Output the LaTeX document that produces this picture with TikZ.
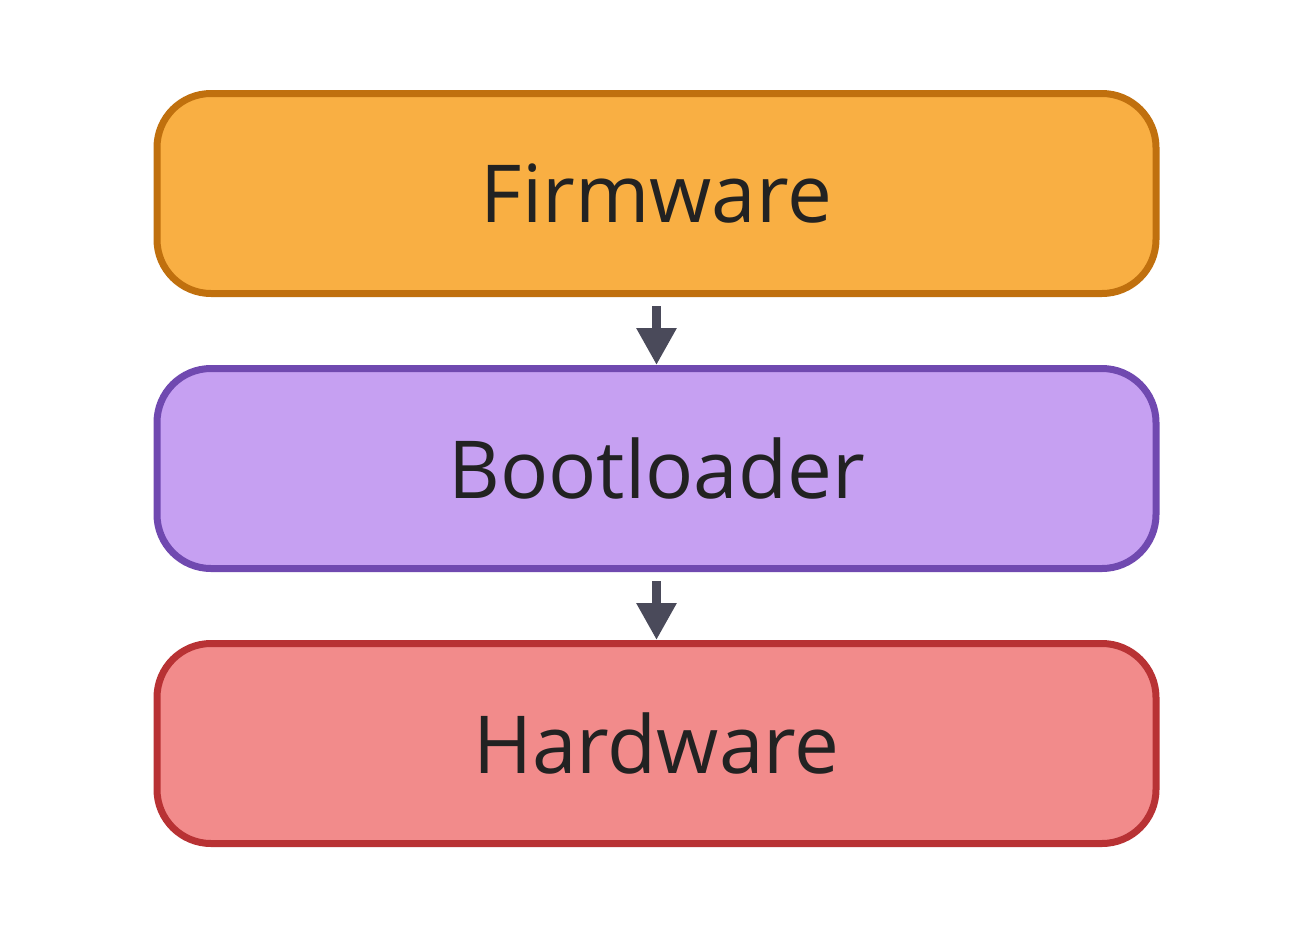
\documentclass[tikz,border=0pt]{standalone}
\usepackage{fontspec}
\setmainfont{Open Sans}
\usetikzlibrary{arrows.meta}
\definecolor{fwfill}{HTML}{F9AF43}
\definecolor{fwdraw}{HTML}{C0700E}
\definecolor{blfill}{HTML}{C6A0F2}
\definecolor{bldraw}{HTML}{7049B0}
\definecolor{hwfill}{HTML}{F28B8B}
\definecolor{hwdraw}{HTML}{B83234}
\definecolor{arrcol}{HTML}{4A4A5A}
\definecolor{txt}{HTML}{222222}
\begin{document}
\begin{tikzpicture}[x=0.5pt,y=-0.5pt,
  layerbox/.style={rectangle, rounded corners=27pt, line width=3.5pt,
    minimum width=499.5pt, minimum height=100pt, inner sep=0pt,
    text=txt, font=\fontsize{40}{48}\selectfont},
  arr/.style={draw=arrcol, line width=4.5pt,
    -{Triangle[width=19pt,length=18.5pt,fill=arrcol]}}]
\useasboundingbox (0,0) rectangle (1313,938);
\node[layerbox, draw=fwdraw, fill=fwfill] (f) at (656.5,193.5) {Firmware};
\node[layerbox, draw=bldraw, fill=blfill] (b) at (656.5,468.5) {Bootloader};
\node[layerbox, draw=hwdraw, fill=hwfill] (h) at (656.5,743.5) {Hardware};
\draw[arr] ([yshift=-4.5pt]f.south) -- (b.north);
\draw[arr] ([yshift=-4.5pt]b.south) -- (h.north);
\end{tikzpicture}
\end{document}
